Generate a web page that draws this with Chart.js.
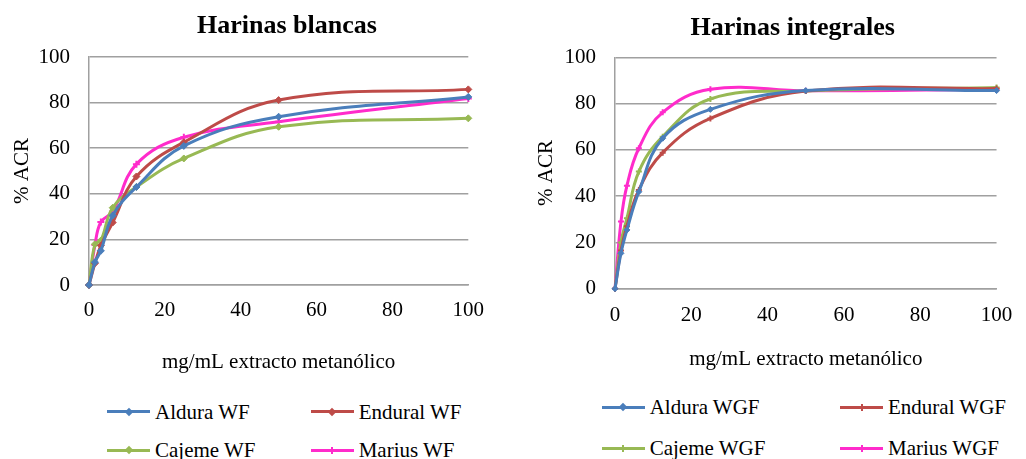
<!DOCTYPE html>
<html lang="es">
<head>
<meta charset="utf-8">
<title>Harinas blancas / Harinas integrales</title>
<script src="https://cdn.jsdelivr.net/npm/chart.js@4.4.1/dist/chart.umd.min.js"></script>
<style>
  html, body { margin: 0; padding: 0; background: #fff; overflow: hidden; }
  #wrap { position: relative; width: 1026px; height: 459px; font-family: "Liberation Serif", "Times New Roman", serif; color: #000; }
  canvas { position: absolute; top: 0; }
  #blancas { left: 0; }
  #integrales { left: 524px; }
  .leg { position: absolute; display: flex; align-items: center; height: 24px; font-size: 21px; line-height: 24px; white-space: nowrap; }
  .leg .linea { position: relative; width: 43px; height: 3px; margin-right: 5px; }
  .leg .linea i { position: absolute; left: 50%; top: 50%; }
  .leg .linea i.rombo { width: 6px; height: 6px; margin: -3px 0 0 -3px; transform: rotate(45deg); }
  .leg .linea i.cruz { width: 2px; height: 7px; margin: -3.5px 0 0 -1px; }
</style>
</head>
<body>
<div id="wrap">
  <canvas id="blancas" width="560" height="380"></canvas>
  <canvas id="integrales" width="502" height="380"></canvas>
</div>
<script>
// concentracion del extracto (mg/mL)
const conc = [0, 1.5625, 3.125, 6.25, 12.5, 25, 50, 100];

// harinas blancas, % ACR
const alduraWF  = [0, 10, 15, 30.5, 43, 61, 73.8, 82.5];
const enduralWF = [0, 9.5, 17.3, 27.4, 47.6, 62.6, 81.1, 85.8];
const cajemeWF  = [0, 17.9, 19.5, 33.9, 43, 55.5, 69.4, 73.1];
const mariusWF  = [0, 17.5, 27.6, 32.2, 53, 64.8, 71.6, 81.8];

// harinas integrales, % ACR
const alduraWGF  = [0, 15.3, 25.4, 41.9, 65, 77.5, 85.6, 85.6];
const enduralWGF = [0, 16.5, 27, 42.7, 58.8, 73.6, 85.4, 86.5];
const cajemeWGF  = [0, 20, 30.4, 50.6, 65.7, 82, 85.4, 87];
const mariusWGF  = [0, 29, 44.5, 60.7, 76.2, 86.2, 85.5, 86.2];

const nombresWF  = ['Aldura WF', 'Endural WF', 'Cajeme WF', 'Marius WF'];
const nombresWGF = ['Aldura WGF', 'Endural WGF', 'Cajeme WGF', 'Marius WGF'];

const ticksX = [0, 20, 40, 60, 80, 100];
const ticksY = [0, 20, 40, 60, 80, 100];

const colores = ['#4A7EBB', '#BE4B48', '#98B954', '#FF2BCB'];
const gris = '#a0a0a0';
const fuente = '"Liberation Serif", "Times New Roman", serif';

// el titulo de Chart.js se centra en todo el canvas; lo movemos sobre el area de trazado
function centrarTitulo(dx) {
  return {
    id: 'centrarTitulo',
    afterLayout(chart) {
      const t = chart.titleBlock;
      if (!t) return;
      const medio = (chart.chartArea.left + chart.chartArea.right) / 2 + dx;
      const mitad = (t.right - t.left) / 2;
      t.left = medio - mitad;
      t.right = medio + mitad;
    }
  };
}

function grafica(id, titulo, nombres, series, marcas, f) {
  return new Chart(document.getElementById(id), {
    type: 'line',
    data: {
      datasets: series.map(function(vals, i) {
        return {
          label: nombres[i],
          data: conc.map(function(c, j) { return {x: c, y: vals[j]}; }),
          borderColor: colores[i],
          backgroundColor: colores[i],
          borderWidth: 3,
          tension: 0.4,
          pointStyle: marcas[i].estilo,
          pointRadius: marcas[i].r,
          pointBorderWidth: marcas[i].estilo === 'cross' ? 2 : 1,
          clip: 8
        };
      })
    },
    plugins: [centrarTitulo(f.dxTitulo)],
    options: {
      responsive: false,
      animation: false,
      devicePixelRatio: 1,
      layout: { padding: { top: 0, left: 0, right: f.padDer, bottom: 0 } },
      plugins: {
        legend: { display: false },
        tooltip: { enabled: false },
        title: {
          display: true,
          text: titulo,
          color: '#000',
          font: { family: fuente, size: 26, weight: 'bold' },
          padding: { top: f.tituloArriba, bottom: f.tituloAbajo }
        }
      },
      scales: {
        x: {
          type: 'linear',
          min: 0,
          max: 100,
          afterBuildTicks: function(s) { s.ticks = ticksX.map(function(v) { return {value: v}; }); },
          afterFit: function(s) { s.height = f.altoX; },
          grid: { display: false, drawTicks: false },
          border: { display: true, color: gris, width: 1.5 },
          ticks: { color: '#000', font: { family: fuente, size: 21 }, padding: f.tickX, maxRotation: 0 },
          title: {
            display: true,
            text: 'mg/mL extracto metanólico',
            color: '#000',
            font: { family: fuente, size: 21 },
            padding: { top: 0, bottom: f.ejeXAbajo }
          }
        },
        y: {
          min: 0,
          max: 100,
          afterBuildTicks: function(s) { s.ticks = ticksY.map(function(v) { return {value: v}; }); },
          afterFit: function(s) { s.width = f.anchoY; },
          grid: { color: gris, lineWidth: 1.5, drawTicks: false },
          border: { display: true, color: gris, width: 1.5 },
          ticks: { color: '#000', font: { family: fuente, size: 21 }, padding: 19 },
          title: {
            display: true,
            text: '% ACR',
            color: '#000',
            font: { family: fuente, size: 21 },
            padding: { top: 9.4, bottom: 0 }
          }
        }
      }
    }
  });
}

// leyenda en dos columnas bajo cada grafica
function leyenda(nombres, marcas, sitios) {
  const wrap = document.getElementById('wrap');
  nombres.forEach(function(n, i) {
    const item = document.createElement('div');
    item.className = 'leg';
    item.style.left = sitios[i][0] + 'px';
    item.style.top = (sitios[i][1] - 12) + 'px';
    const linea = document.createElement('span');
    linea.className = 'linea';
    linea.style.background = colores[i];
    const m = document.createElement('i');
    m.className = marcas[i].estilo === 'cross' ? 'cruz' : 'rombo';
    m.style.background = colores[i];
    linea.appendChild(m);
    item.appendChild(linea);
    item.appendChild(document.createTextNode(n));
    wrap.appendChild(item);
  });
}

const marcasWF = [
  {estilo: 'rectRot', r: 3.5}, {estilo: 'rectRot', r: 3.5},
  {estilo: 'rectRot', r: 3.5}, {estilo: 'cross', r: 3.5}
];
const marcasWGF = [
  {estilo: 'rectRot', r: 3}, {estilo: 'cross', r: 3},
  {estilo: 'cross', r: 3}, {estilo: 'cross', r: 3}
];

grafica('blancas', 'Harinas blancas', nombresWF,
  [alduraWF, enduralWF, cajemeWF, mariusWF], marcasWF,
  { dxTitulo: 8.3, padDer: 91.7, anchoY: 89, altoX: 95, tituloArriba: 10.6, tituloAbajo: 15.2,
    tickX: 12.4, ejeXAbajo: 5 });

grafica('integrales', 'Harinas integrales', nombresWGF,
  [alduraWGF, enduralWGF, cajemeWGF, mariusWGF], marcasWGF,
  { dxTitulo: -13, padDer: 19, anchoY: 91, altoX: 91.3, tituloArriba: 12.4, tituloAbajo: 13.7,
    tickX: 13.7, ejeXAbajo: 7.5 });

leyenda(nombresWF, marcasWF, [[107, 411.7], [310.7, 411.7], [107, 450], [310.7, 450]]);
leyenda(nombresWGF, marcasWGF, [[601.7, 407.3], [840, 407.3], [601.7, 448.3], [840, 448.3]]);
</script>
</body>
</html>
